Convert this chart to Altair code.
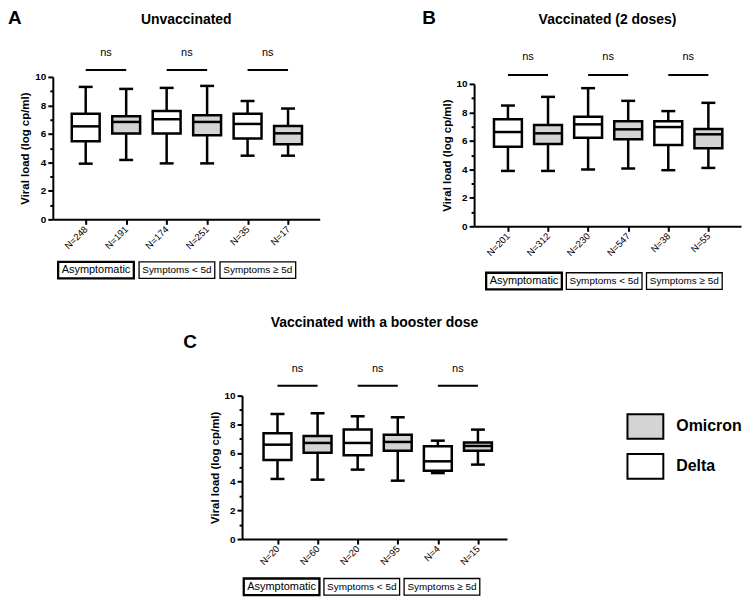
import altair as alt
import pandas as pd

FONT = "Liberation Sans"

groups = ["Asymptomatic", "Symptoms < 5d", "Symptoms ≥ 5d"]
variants = ["Delta", "Omicron", "Delta", "Omicron", "Delta", "Omicron"]
legend_order = ["Omicron", "Delta"]
fill_colors = ["#d4d4d4", "#ffffff"]
sig_labels = ["ns", "ns", "ns"]
pair_start = [0, 2, 4]
pair_end = [1, 3, 5]

# Panel A
A_title = "Unvaccinated"
A_n = ["N=248", "N=191", "N=174", "N=251", "N=35", "N=17"]
A_min = [3.91, 4.17, 3.93, 3.93, 4.47, 4.47]
A_q1 = [5.48, 6.02, 6.02, 5.90, 5.67, 5.27]
A_med = [6.53, 6.84, 7.03, 6.84, 6.70, 6.04]
A_q3 = [7.42, 7.24, 7.61, 7.31, 7.42, 6.56]
A_max = [9.30, 9.16, 9.23, 9.37, 8.31, 7.78]

# Panel B
B_title = "Vaccinated (2 doses)"
B_n = ["N=201", "N=312", "N=230", "N=547", "N=38", "N=55"]
B_min = [3.89, 3.89, 3.99, 4.06, 3.94, 4.10]
B_q1 = [5.59, 5.78, 6.22, 6.11, 5.71, 5.48]
B_med = [6.62, 6.53, 7.16, 6.81, 6.97, 6.46]
B_q3 = [7.51, 7.11, 7.69, 7.37, 7.37, 6.83]
B_max = [8.48, 9.09, 9.70, 8.81, 8.09, 8.67]

# Panel C
C_title = "Vaccinated with a booster dose"
C_n = ["N=20", "N=60", "N=20", "N=95", "N=4", "N=15"]
C_min = [4.19, 4.14, 4.84, 4.07, 4.60, 5.19]
C_q1 = [5.51, 6.02, 5.84, 6.16, 4.77, 6.16]
C_med = [6.58, 6.70, 6.70, 6.77, 5.42, 6.49]
C_q3 = [7.37, 7.19, 7.63, 7.28, 6.47, 6.74]
C_max = [8.72, 8.77, 8.56, 8.49, 6.86, 7.63]

TOTAL_W, TOTAL_H = 691, 464
BOX_PATH = "M-1,-0.22L1,-0.22L1,0.22L-1,0.22Z"
LEG_PATH = "M-1,-0.69L1,-0.69L1,0.69L-1,0.69Z"

leg = alt.Legend(
    orient="none", legendX=576, legendY=332, title=None,
    symbolType=LEG_PATH, symbolSize=1296, symbolStrokeColor="black",
    symbolStrokeWidth=2, labelFont=FONT, labelFontSize=16,
    labelFontWeight="bold", labelColor="black", labelOffset=12, rowPadding=4,
)


def panel(letter, title, n_labels, mins, q1s, meds, q3s, maxs, lay):
    df = pd.DataFrame({
        "idx": list(range(len(n_labels))), "n": n_labels, "variant": variants,
        "lo": mins, "q1": q1s, "med": meds, "q3": q3s, "hi": maxs,
    })
    gdf = pd.DataFrame({"group": groups, "start": pair_start, "end": pair_end, "sig": sig_labels})
    gdf["mid"] = (gdf["start"] + gdf["end"]) / 2
    tdf = pd.DataFrame({"t": [title], "l": [letter]})

    x0, x1 = lay["xr"]
    y0, y1 = lay["yr"]  # top, bottom pixel of plot area
    label_js = "[" + ",".join("'%s'" % s for s in n_labels) + "]"
    xs = alt.Scale(domain=lay["xd"], range=[x0, x1], nice=False, zero=False)
    ys = alt.Scale(domain=[0, 10], range=[y1, y0], nice=False)
    xa = alt.Axis(
        orient="bottom", offset=y1 - TOTAL_H,
        values=list(range(len(n_labels))), labelExpr=label_js + "[datum.value]",
        labelAngle=315, labelAlign="right", labelBaseline="middle", title=None,
        grid=False, tickSize=5, tickWidth=2, tickColor="black", domainColor="black",
        domainWidth=2, labelPadding=3, labelFontSize=9.5, labelFont=FONT, labelColor="black",
    )
    ya = alt.Axis(
        orient="left", offset=-x0,
        values=list(range(11)), labelExpr="datum.value % 2 === 0 ? datum.label : ''",
        tickSize={"condition": {"test": "datum.value % 2 === 0", "value": 5}, "value": 3},
        tickWidth=2, tickColor="black", domainColor="black", domainWidth=2, grid=False,
        title="Viral load (log cp/ml)", titleFont=FONT, titleFontSize=11.5,
        titleFontWeight="bold", titleColor="black", titlePadding=4,
        labelFont=FONT, labelFontSize=10, labelFontWeight="bold", labelColor="black",
        labelPadding=2,
    )

    def X(f):
        return alt.X(f, type="quantitative", scale=xs, axis=xa)

    def Y(f):
        return alt.Y(f, type="quantitative", scale=ys, axis=ya)

    base = alt.Chart(df)
    whisk = base.mark_rule(color="black", strokeWidth=2.5).encode(x=X("idx"), y=Y("lo"), y2="hi")
    cap_lo = base.mark_rule(color="black", strokeWidth=2.5, xOffset=-7, x2Offset=7).encode(
        x=X("idx"), x2="idx", y=Y("lo"))
    cap_hi = base.mark_rule(color="black", strokeWidth=2.5, xOffset=-7, x2Offset=7).encode(
        x=X("idx"), x2="idx", y=Y("hi"))
    box = base.mark_bar(width=28, stroke="black", strokeWidth=2.5, opacity=1).encode(
        x=X("idx"), y=Y("q1"), y2="q3",
        fill=alt.Fill("variant:N", scale=alt.Scale(domain=legend_order, range=fill_colors), legend=leg),
    )
    med = base.mark_rule(color="black", strokeWidth=2.5, xOffset=-14, x2Offset=14).encode(
        x=X("idx"), x2="idx", y=Y("med"))

    g = alt.Chart(gdf)
    sig = g.mark_rule(color="black", strokeWidth=2).encode(
        x=X("start"), x2="end", y=alt.value(lay["rule"]))
    ns = g.mark_text(font=FONT, fontSize=11, color="black", baseline="middle").encode(
        x=X("mid"), y=alt.value(lay["ns"]), text="sig:N")
    gbox = g.mark_point(shape=BOX_PATH, size=5776, filled=False, color="black", opacity=1,
                        xOffset=lay["gx"]).encode(
        x=X("mid"), y=alt.value(lay["gy"]),
        strokeWidth=alt.condition(alt.datum.group == groups[0], alt.value(2.3), alt.value(1.3)),
    )
    gtxt = g.mark_text(font=FONT, color="black", baseline="middle", xOffset=lay["gx"]).encode(
        x=X("mid"), y=alt.value(lay["gy"]), text="group:N",
        size=alt.condition(alt.datum.group == groups[0], alt.value(11), alt.value(10)),
    )

    t = alt.Chart(tdf)
    ttl = t.mark_text(font=FONT, fontSize=14, fontWeight="bold", color="black",
                      align="center", baseline="middle").encode(
        x=alt.value((x0 + x1) / 2), y=alt.value(lay["title"]), text="t:N")
    let = t.mark_text(font=FONT, fontSize=19, fontWeight="bold", color="black",
                      align="left", baseline="top").encode(
        x=alt.value(lay["lx"]), y=alt.value(lay["ly"]), text="l:N")

    return alt.layer(whisk, cap_lo, cap_hi, box, med, sig, ns, gbox, gtxt, ttl, let)


pA = panel("A", A_title, A_n, A_min, A_q1, A_med, A_q3, A_max,
           {"xr": (0, 268), "yr": (0, 143), "xd": [-0.69, 5.66],
            "rule": -7, "ns": -24, "gx": -10, "gy": 194, "title": -57, "lx": -45, "ly": -68})
pB = panel("B", B_title, B_n, B_min, B_q1, B_med, B_q3, B_max,
           {"xr": (423, 691), "yr": (7, 150), "xd": [-0.72, 5.69],
            "rule": -2, "ns": -20, "gx": -4, "gy": 205, "title": -57, "lx": 371, "ly": -68})
pC = panel("C", C_title, C_n, C_min, C_q1, C_med, C_q3, C_max,
           {"xr": (190, 456), "yr": (320, 464), "xd": [-0.76, 5.6],
            "rule": 310, "ns": 293, "gx": -16, "gy": 512, "title": 247, "lx": 131, "ly": 257})

chart = alt.layer(pA, pB, pC).resolve_scale(x="independent", y="independent").properties(
    width=TOTAL_W, height=TOTAL_H,
    padding={"left": 0, "top": 0, "right": 0, "bottom": 0},
    background="white",
).configure_view(stroke=None)

chart.save("out.html", embed_options={"renderer": "svg", "actions": False})
